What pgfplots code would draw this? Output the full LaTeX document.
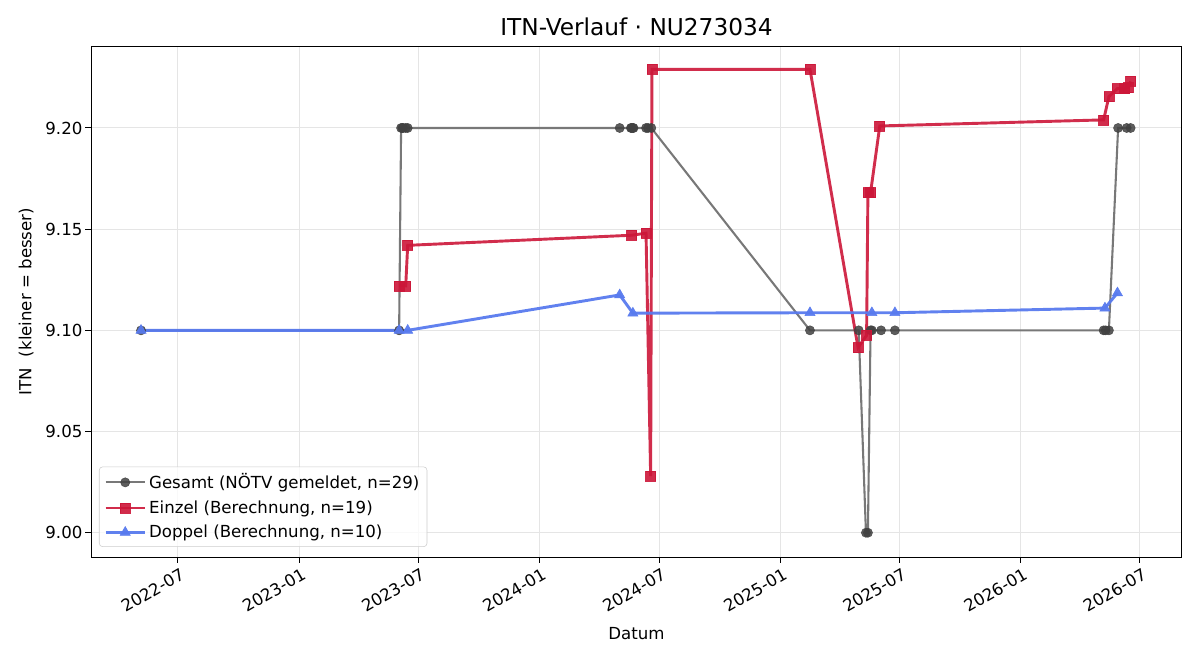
\documentclass[border=0pt]{standalone}
\usepackage{fontspec}
\setmainfont{DejaVu Sans}
\usepackage{pgfplots}
\pgfplotsset{compat=1.18}
\usepackage{pgfplotstable}

\pgfplotstableread{
d v
125 9.10
517 9.10
520 9.20
522 9.20
523 9.20
527 9.20
530 9.20
852 9.20
869 9.20
870 9.20
872 9.20
873 9.20
892 9.20
895 9.20
900 9.20
1141 9.10
1215 9.10
1226 9.00
1229 9.00
1233 9.10
1235 9.10
1249 9.10
1270 9.10
1587 9.10
1590 9.10
1595 9.10
1609 9.20
1622 9.20
1628 9.20
}\gesamt

\pgfplotstableread{
d v
517 9.122
527 9.122
530 9.142
870 9.147
892 9.148
899 9.028
901 9.229
1141 9.229
1214 9.0915
1227 9.0975
1229 9.168
1233 9.168
1247 9.201
1587 9.204
1595 9.2155
1608 9.2195
1619 9.2195
1624 9.220
1628 9.223
}\einzel

\pgfplotstableread{
d v
125 9.10
517 9.10
530 9.10
852 9.1175
872 9.1085
1141 9.1087
1235 9.1087
1270 9.1087
1589 9.111
1608 9.1185
}\doppel

\definecolor{gline}{RGB}{120,120,120}
\definecolor{gmark}{RGB}{65,65,65}
\definecolor{ered}{RGB}{204,22,56}
\definecolor{dblue}{RGB}{88,122,238}

\begin{document}
\begin{tikzpicture}
\path[use as bounding box] (-65.52bp,-74.16bp) rectangle (798.48bp,401.04bp);
\begin{axis}[
  scale only axis,
  width=785.5bp, height=367.9bp,
  xmin=49, xmax=1706,
  ymin=8.988, ymax=9.2405,
  xtick={181,365,546,730,912,1096,1277,1461,1642},
  xticklabels={2022-07,2023-01,2023-07,2024-01,2024-07,2025-01,2025-07,2026-01,2026-07},
  xticklabel style={rotate=30, anchor=north east, font=\fontsize{12}{14}\selectfont, inner sep=1.5pt, yshift=-2bp, xshift=1bp},
  ytick={9.00,9.05,9.10,9.15,9.20},
  yticklabel style={font=\fontsize{12}{14}\selectfont, /pgf/number format/fixed, /pgf/number format/fixed zerofill, /pgf/number format/precision=2, inner sep=2pt},
  /pgf/number format/assume math mode=true,
  scaled y ticks=false,
  tick align=outside,
  tick pos=left,
  major tick length=4bp,
  every tick/.style={black, line width=0.7bp},
  axis line style={line width=0.7bp},
  grid=major,
  grid style={line width=0.7bp, black!10},
  xlabel={Datum},
  ylabel={ITN\ \ (kleiner = besser)},
  xlabel style={font=\fontsize{12}{14}\selectfont, yshift=-5bp},
  ylabel style={font=\fontsize{12}{14}\selectfont, yshift=3bp},
  title={ITN-Verlauf · NU273034},
  title style={font=\fontsize{16.8}{19}\selectfont, yshift=-2bp},
  legend style={at={(0.0073,0.0196)}, anchor=south west, font=\fontsize{12}{14}\selectfont,
    draw=black!20, rounded corners=2.5bp, fill=white, fill opacity=0.8, text opacity=1,
    row sep=3bp, inner xsep=3.5bp, inner ysep=3bp},
  legend cell align=left,
  legend image code/.code={
    \draw[mark repeat=2,mark phase=2] plot coordinates {(0cm,0cm) (0.5cm,0cm) (1.0cm,0cm)};
  },
]
\addplot[gline, line width=1.5bp, mark=*, mark size=3.3bp,
  mark options={fill=gmark, draw=gmark, fill opacity=0.85, draw opacity=0.85, solid, line width=0.4bp}]
  table[x=d, y=v] {\gesamt};
\addlegendentry{Gesamt (NÖTV gemeldet, n=29)}
\addplot[ered, line width=2.1bp, opacity=0.9, mark=square*, mark size=3.6bp,
  mark options={fill=ered, draw=ered, solid, line width=0.4bp}]
  table[x=d, y=v] {\einzel};
\addlegendentry{Einzel (Berechnung, n=19)}
\addplot[dblue, line width=2.1bp, opacity=0.95, mark=triangle*, mark size=4.2bp,
  mark options={fill=dblue, draw=dblue, solid, line width=0.4bp}]
  table[x=d, y=v] {\doppel};
\addlegendentry{Doppel (Berechnung, n=10)}
\end{axis}
\end{tikzpicture}
\end{document}
